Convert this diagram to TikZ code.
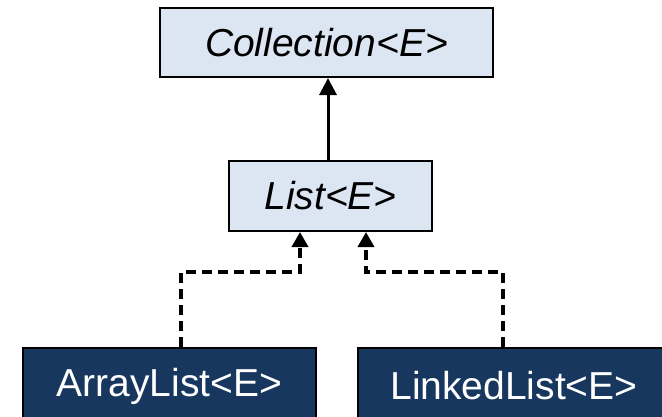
\documentclass[tikz,border=0pt]{standalone}
\usepackage{fontspec}
\setmainfont{Liberation Sans}
\usetikzlibrary{arrows.meta}
\definecolor{ifacefill}{HTML}{DCE6F2}
\definecolor{classfill}{HTML}{17375E}
\tikzset{
  iface/.style={draw=black, line width=2pt, fill=ifacefill, font=\fontsize{39}{44}\selectfont\itshape, inner sep=0pt},
  impl/.style={draw=black, line width=2pt, fill=classfill, text=white, font=\fontsize{39}{44}\selectfont, inner sep=0pt},
  extends/.style={line width=3pt, -{Triangle[length=17pt,width=17pt]}},
  implements/.style={line width=3.5pt, dash pattern=on 10pt off 6pt, -{Triangle[length=15pt,width=16pt]}}
}
\begin{document}
\begin{tikzpicture}[x=1pt,y=-1pt]
  \useasboundingbox (0,0) rectangle (662,416);
  \node[iface, minimum width=333pt, minimum height=69pt] (coll) at (326.5,42.5) {Collection<E>};
  \node[iface, minimum width=203pt, minimum height=70pt] (list) at (330.5,196) {List<E>};
  \node[impl, minimum width=293pt, minimum height=76pt] (alist) at (169.5,386) {ArrayList<E>};
  \node[impl, minimum width=312pt, minimum height=76pt] (llist) at (514,386) {LinkedList<E>};

  \draw[extends] ([xshift=-2.5pt]list.north) -- ([xshift=-2.5pt]list.north |- coll.south);
  \draw[implements] ([xshift=11.5pt]alist.north) -- ++(0,-75) -| ([xshift=-30.5pt]list.south);
  \draw[implements] ([xshift=-11pt]llist.north) -- ++(0,-75) -| ([xshift=35.5pt]list.south);
\end{tikzpicture}
\end{document}
